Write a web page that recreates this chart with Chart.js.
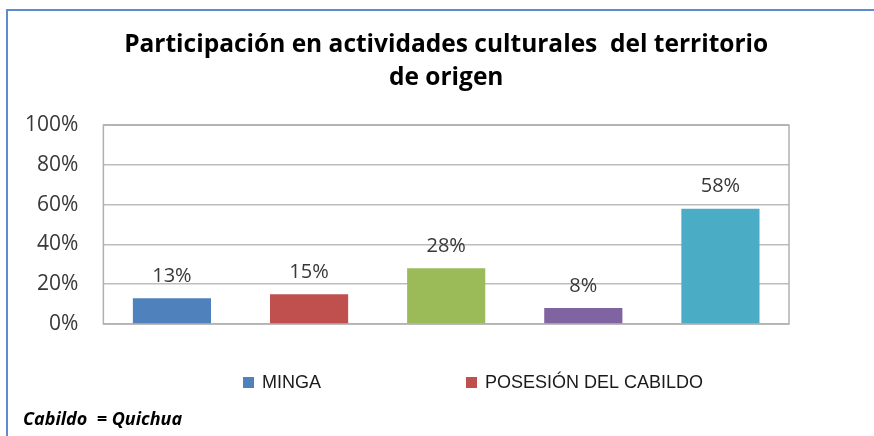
<!DOCTYPE html>
<html>
<head>
<meta charset="utf-8">
<script src="https://cdn.jsdelivr.net/npm/chart.js@4/dist/chart.umd.min.js"></script>
<style>
  body { margin: 0; background: #fff; }
  #frame { position: absolute; left: 6px; top: 9px; width: 868px; height: 427px;
           border-left: 2px solid #5b8bd0; border-top: 2px solid #5b8bd0; }
  #chart { position: absolute; left: 0; top: 0; }
</style>
</head>
<body>
<div id="frame"></div>
<canvas id="chart" width="874" height="436"></canvas>
<script>
// data
var categories = ["MINGA", "POSESIÓN DEL CABILDO", "", "", ""];
var percents = [13, 15, 28, 8, 58];
var barColors = ["#4f81bd", "#c0504d", "#9bbb59", "#8064a2", "#4bacc6"];
var yTicks = [0, 20, 40, 60, 80, 100];
var titleLines = ["Participación en actividades culturales  del territorio", "de origen"];
var footNote = "Cabildo  = Quichua";

var textFont = '"Open Sans", "Liberation Sans", sans-serif';
var legendFont = '"Liberation Sans", Arial, sans-serif';

// percent labels above each bar
var valueLabels = {
	id: 'valueLabels',
	afterDatasetsDraw: function(chart) {
		var ctx = chart.ctx;
		var meta = chart.getDatasetMeta(0);
		ctx.save();
		ctx.font = '20px ' + textFont;
		ctx.fillStyle = '#383838';
		ctx.textAlign = 'center';
		ctx.textBaseline = 'middle';
		meta.data.forEach(function(bar, i) {
			ctx.fillText(percents[i] + '%', bar.x, bar.y - 22);
		});
		ctx.restore();
	}
};

// grey box round the plot area
var plotBorder = {
	id: 'plotBorder',
	beforeDatasetsDraw: function(chart) {
		var a = chart.chartArea;
		var ctx = chart.ctx;
		ctx.save();
		ctx.strokeStyle = '#b0b0b0';
		ctx.lineWidth = 1.5;
		ctx.strokeRect(a.left, a.top, a.right - a.left, a.bottom - a.top);
		ctx.restore();
	}
};

// legend (only the first two entries fit in the original) and the foot note
var bottomLegend = {
	id: 'bottomLegend',
	afterDraw: function(chart) {
		var ctx = chart.ctx;
		var xs = [243, 466];
		ctx.save();
		ctx.font = '18px ' + legendFont;
		ctx.textBaseline = 'middle';
		for (var i = 0; i < xs.length; i++) {
			ctx.fillStyle = barColors[i];
			ctx.fillRect(xs[i], 377, 11, 11);
			ctx.fillStyle = '#1a1a1a';
			ctx.fillText(categories[i], xs[i] + 19, 383);
		}
		ctx.font = 'italic bold 18px ' + textFont;
		ctx.fillStyle = '#000';
		ctx.fillText(footNote, 23, 420);
		ctx.restore();
	}
};

new Chart(document.getElementById('chart'), {
	type: 'bar',
	data: {
		labels: categories,
		datasets: [{
			data: percents,
			backgroundColor: barColors,
			borderWidth: 0,
			categoryPercentage: 1,
			barPercentage: 0.57
		}]
	},
	options: {
		responsive: false,
		animation: false,
		devicePixelRatio: 1,
		layout: { padding: { top: 28, left: 0, right: 85, bottom: 104 } },
		plugins: {
			legend: { display: false },
			tooltip: { enabled: false },
			title: {
				display: true,
				fullSize: false,
				text: titleLines,
				color: '#000',
				font: { family: textFont, size: 24.5, weight: 'bold', lineHeight: 1.35 },
				padding: { top: 0, bottom: 31 }
			}
		},
		scales: {
			x: {
				grid: { display: false },
				ticks: { display: false },
				border: { display: false }
			},
			y: {
				min: 0,
				max: 100,
				afterBuildTicks: function(scale) {
					scale.ticks = yTicks.map(function(v) { return { value: v }; });
				},
				ticks: {
					padding: 25,
					color: '#383838',
					font: { family: textFont, size: 21 },
					callback: function(v) { return v + '%'; }
				},
				grid: { color: '#bdbdbd', lineWidth: 1.5, drawTicks: false },
				border: { display: false }
			}
		}
	},
	plugins: [plotBorder, valueLabels, bottomLegend]
});
</script>
</body>
</html>
